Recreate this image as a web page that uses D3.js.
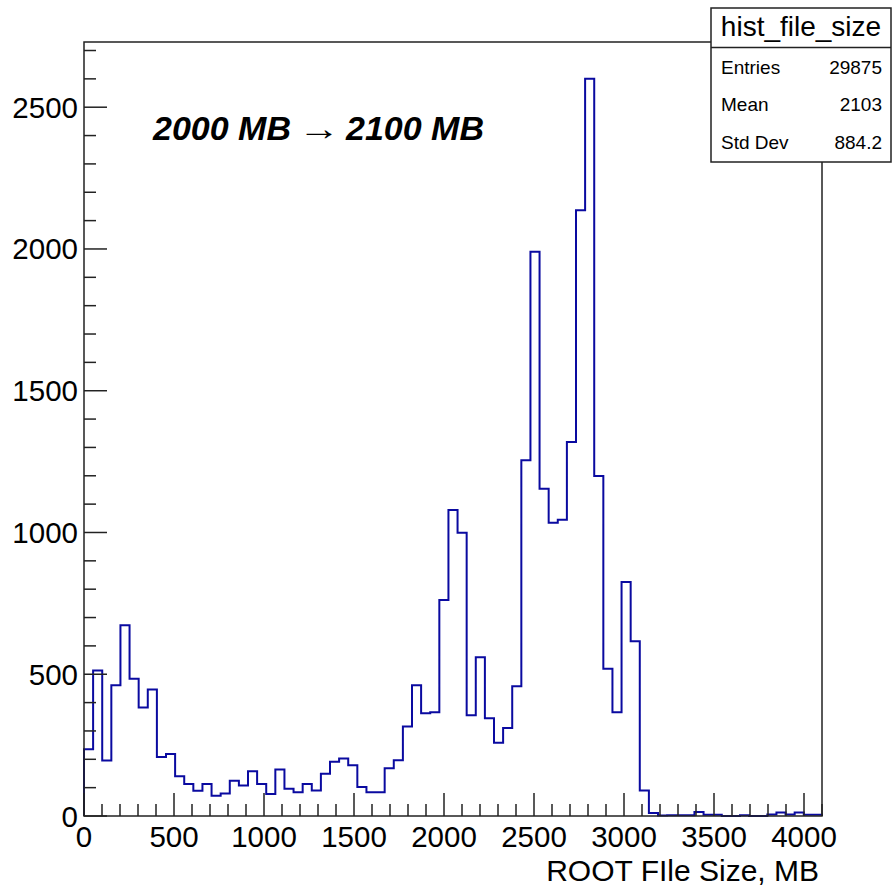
<!DOCTYPE html>
<html>
<head>
<meta charset="utf-8">
<script src="https://cdn.jsdelivr.net/npm/d3@7"></script>
<style>
  body { margin: 0; background: #fff; }
  text { font-family: "Liberation Sans", Arial, Helvetica, sans-serif; fill: #000; }
</style>
</head>
<body>
<div id="chart"></div>
<script>
// histogram contents, 81 equal bins over the x range
const xRange = [0, 4100];
const counts = [
  235, 513, 196, 461, 673, 484, 383, 446, 208, 219,
  140, 113, 89, 113, 71, 79, 124, 108, 158, 113,
  78, 164, 96, 84, 113, 90, 149, 191, 203, 179,
  102, 84, 84, 168, 197, 316, 461, 362, 366, 762,
  1079, 999, 355, 560, 345, 258, 310, 458, 1255, 1990,
  1154, 1034, 1045, 1319, 2137, 2600, 1199, 519, 366, 825,
  616, 90, 11, 2, 3, 3, 3, 14, 4, 4,
  0, 0, 3, 0, 0, 5, 12, 5, 12, 4, 4
];
const xTicks = [0, 500, 1000, 1500, 2000, 2500, 3000, 3500, 4000];
const yTicks = [0, 500, 1000, 1500, 2000, 2500];
const statsTitle = "hist_file_size";
const statsLabels = ["Entries", "Mean", "Std Dev"];
const statsValues = ["29875", "2103", "884.2"];
const xTitle = "ROOT FIle Size, MB";
const noteParts = ["2000 MB", "\u2192", "2100 MB"];

const W = 893, H = 886;
const margin = { top: 42, right: 71, bottom: 70, left: 84 };

const svg = d3.select("#chart").append("svg")
  .attr("width", W).attr("height", H);

const binWidth = (xRange[1] - xRange[0]) / counts.length;
const x = d3.scaleLinear().domain(xRange).range([margin.left, W - margin.right]);
const y = d3.scaleLinear().domain([0, 1.05 * d3.max(counts)]).range([H - margin.bottom, margin.top]);

// histogram outline
const pts = [[xRange[0], 0]];
counts.forEach((c, i) => {
  pts.push([xRange[0] + i * binWidth, c]);
  pts.push([xRange[0] + (i + 1) * binWidth, c]);
});
pts.push([xRange[1], 0]);

svg.append("path")
  .attr("d", d3.line().x(d => x(d[0])).y(d => y(d[1]))(pts))
  .attr("fill", "none")
  .attr("stroke", "#0a0aa0")
  .attr("stroke-width", 2);

// frame
svg.append("rect")
  .attr("x", x(xRange[0])).attr("y", y.range()[1])
  .attr("width", x(xRange[1]) - x(xRange[0]))
  .attr("height", y.range()[0] - y.range()[1])
  .attr("fill", "none").attr("stroke", "#222").attr("stroke-width", 1.5);

// x axis ticks (inside)
const xMinor = d3.range(0, xRange[1] + 1, 100);
svg.append("g").selectAll("line").data(xMinor).join("line")
  .attr("x1", d => x(d)).attr("x2", d => x(d))
  .attr("y1", y(0)).attr("y2", d => y(0) - (d % 500 === 0 ? 23 : 12))
  .attr("stroke", "#222").attr("stroke-width", 1.5);
svg.append("g").selectAll("text").data(xTicks).join("text")
  .attr("x", d => x(d)).attr("y", 847)
  .attr("text-anchor", "middle")
  .attr("font-size", 29.5)
  .text(d => d);

// y axis ticks (inside)
const yMinor = d3.range(0, y.domain()[1], 100);
svg.append("g").selectAll("line").data(yMinor).join("line")
  .attr("x1", x(0)).attr("x2", d => x(0) + (d % 500 === 0 ? 23 : 12))
  .attr("y1", d => y(d)).attr("y2", d => y(d))
  .attr("stroke", "#222").attr("stroke-width", 1.5);
svg.append("g").selectAll("text").data(yTicks).join("text")
  .attr("x", 78).attr("y", d => y(d) + 10.5)
  .attr("text-anchor", "end")
  .attr("font-size", 29.5)
  .text(d => d);

// x title
svg.append("text")
  .attr("x", 819).attr("y", 881)
  .attr("text-anchor", "end")
  .attr("font-size", 30)
  .text(xTitle);

// annotation
svg.append("text")
  .attr("x", 153).attr("y", 140)
  .attr("font-size", 34).attr("font-weight", "bold").attr("font-style", "italic")
  .text(noteParts[0]);
svg.append("text")
  .attr("x", 298).attr("y", 140)
  .attr("font-size", 34).attr("font-family", "DejaVu Sans")
  .attr("textLength", 42).attr("lengthAdjust", "spacingAndGlyphs")
  .text(noteParts[1]);
svg.append("text")
  .attr("x", 346).attr("y", 140)
  .attr("font-size", 34).attr("font-weight", "bold").attr("font-style", "italic")
  .text(noteParts[2]);

// stats box
const box = { x0: 711, x1: 891, y0: 8, y1: 162, sep: 47.5 };
svg.append("rect")
  .attr("x", box.x0).attr("y", box.y0)
  .attr("width", box.x1 - box.x0).attr("height", box.y1 - box.y0)
  .attr("fill", "#fff").attr("stroke", "#222").attr("stroke-width", 1.5);
svg.append("line")
  .attr("x1", box.x0).attr("x2", box.x1).attr("y1", box.sep).attr("y2", box.sep)
  .attr("stroke", "#222").attr("stroke-width", 1.5);
svg.append("text")
  .attr("x", (box.x0 + box.x1) / 2).attr("y", 36)
  .attr("text-anchor", "middle").attr("font-size", 28)
  .text(statsTitle);
statsLabels.forEach((lab, i) => {
  const by = 73.5 + i * 37.8;
  svg.append("text").attr("x", 721).attr("y", by).attr("font-size", 19).text(lab);
  svg.append("text").attr("x", 882).attr("y", by).attr("text-anchor", "end")
    .attr("font-size", 19).text(statsValues[i]);
});
</script>
</body>
</html>
